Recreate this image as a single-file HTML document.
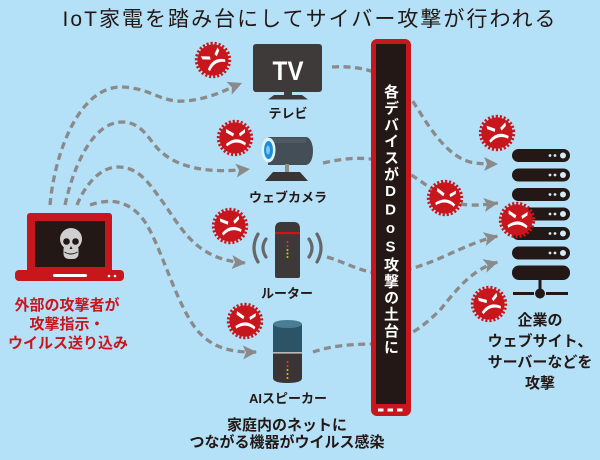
<!DOCTYPE html>
<html><head><meta charset="utf-8">
<style>
html,body{margin:0;padding:0;}
body{width:600px;height:460px;overflow:hidden;background:#b4e1f7;position:relative;font-family:"Liberation Sans","Noto Sans CJK JP",sans-serif;}
svg{position:absolute;left:0;top:0;}
.bt{position:absolute;left:380px;top:84px;width:20px;font-size:15px;font-weight:bold;color:#fff;writing-mode:vertical-rl;text-orientation:upright;letter-spacing:1.5px;line-height:20px;font-family:"Liberation Sans","Noto Sans CJK JP",sans-serif;}
</style></head>
<body>
<svg width="600" height="460" viewBox="0 0 600 460" xmlns="http://www.w3.org/2000/svg">
<defs>
<marker id="ah" markerUnits="userSpaceOnUse" markerWidth="18" markerHeight="18" refX="14" refY="7" orient="auto">
<path d="M0,0 L14,7 L0,14 L3,7 Z" fill="#8a8a8a"/>
</marker>
<g id="badge">
<circle r="16.6" fill="none" stroke="#c8161d" stroke-width="3.2" stroke-dasharray="2.1 1.89"/>
<circle r="15.6" fill="#c8161d"/>
<polygon points="-9,-9 -1,-4.5 -2,-1.5 -9,-5.5" fill="#fff"/>
<polygon points="10,-9 4,-4.5 5,-1.5 10,-5.5" fill="#fff"/>
<path d="M-9,6 Q1,-3 11,5 L10,7.5 Q1,1 -8,8.5 Z" fill="#fff"/>
</g>
</defs>

<!-- title -->
<text x="309" y="26" font-size="21" text-anchor="middle" textLength="493" lengthAdjust="spacing" fill="#231815" font-family="Liberation Sans, Noto Sans CJK JP, sans-serif">IoT家電を踏み台にしてサイバー攻撃が行われる</text>

<!-- dashed connectors -->
<g fill="none" stroke="#8a8a8a" stroke-width="3.3" stroke-dasharray="7 4.5" marker-end="url(#ah)">
<path d="M50,205 C55,150 80,88 120,87 C150,87 160,103 185,101 C210,99 225,90 242,83"/>
<path d="M65,205 C75,160 95,122 122,122 C145,122 150,145 165,155 C185,170 215,173 250,169"/>
<path d="M77,205 C85,185 100,167 118,167 C140,167 150,185 165,205 C185,235 200,260 246,263"/>
<path d="M90,205 C110,198 130,200 145,222 C160,245 172,290 190,320 C205,345 225,353 257,352"/>
<path d="M332,67 C365,65 395,75 412,100 C428,125 445,155 470,162 C480,164 488,164 498,164"/>
<path d="M323,163 C345,158 365,156 385,162 C405,168 425,185 445,198 C455,205 470,207 498,203"/>
<path d="M327,257 C345,262 360,272 380,273 C400,274 425,265 445,256 C465,247 480,240 498,236"/>
<path d="M313,352 C330,346 350,344 375,344 C400,343 420,330 440,310 C455,292 470,270 498,262"/>
</g>

<!-- laptop -->
<rect x="27" y="213" width="85" height="60" rx="3" fill="#c8161d"/>
<rect x="35" y="221" width="70" height="46" fill="#231815"/>
<rect x="15" y="270" width="109" height="11" rx="4" fill="#c8161d"/>
<rect x="53" y="274" width="34" height="3" rx="1.5" fill="#fff"/>
<circle cx="109" cy="276" r="1.3" fill="#fff"/>
<circle cx="115" cy="276" r="1.3" fill="#fff"/>
<!-- skull -->
<ellipse cx="71" cy="239" rx="11" ry="11" fill="#cfcfcf"/>
<rect x="63.5" y="244" width="15" height="15" rx="5" fill="#cfcfcf"/>
<circle cx="66.5" cy="241.5" r="3.3" fill="#231815"/>
<circle cx="75.5" cy="241.5" r="3.3" fill="#231815"/>
<path d="M71,246 L69.5,249 L72.5,249 Z" fill="#231815"/>
<path d="M64.5,252 Q71,256 77.5,252" fill="none" stroke="#231815" stroke-width="1"/>

<!-- TV -->
<rect x="253" y="44" width="69" height="48" rx="3" fill="#3e3a3a"/>
<text x="288" y="80" font-size="27" font-weight="bold" fill="#fff" text-anchor="middle" textLength="31" lengthAdjust="spacingAndGlyphs" font-family="Liberation Sans, sans-serif">TV</text>
<rect x="284" y="92" width="8" height="4" fill="#3e3a3a"/>
<path d="M274,95 L302,95 L308,99.5 L268,99.5 Z" fill="#3e3a3a"/>

<!-- webcam -->
<path d="M268,137 L306,137 A7 14 0 0 1 306,165 L268,165 Z" fill="#444e56"/>
<rect x="270" y="138" width="36" height="5" fill="#56616a" opacity="0.6"/>
<ellipse cx="268.5" cy="150" rx="7" ry="12.5" fill="#dff3fc"/>
<ellipse cx="268.5" cy="150" rx="4.5" ry="9" fill="#1c8fd8"/>
<ellipse cx="268" cy="150" rx="2" ry="4.5" fill="#7cc6ef"/>
<rect x="285" y="164" width="4" height="9" fill="#8e8e8e"/>
<path d="M273,172 L300,172 L308,181 L265,181 Z" fill="#3a3535"/>

<!-- router -->
<path d="M275,229 Q275,222 281,222 L294,222 Q300,222 300,229 L300,276 Q300,278 298,278 L277,278 Q275,278 275,276 Z" fill="#3d3939"/>
<rect x="275" y="232" width="25" height="2.2" fill="#c8161d"/>
<circle cx="287.5" cy="242" r="1" fill="#e23b2e"/>
<circle cx="287.5" cy="246" r="1" fill="#e23b2e"/>
<circle cx="287.5" cy="250" r="1" fill="#c9d400"/>
<circle cx="287.5" cy="253.5" r="1" fill="#c9d400"/>
<circle cx="287.5" cy="257" r="1" fill="#c9d400"/>
<g fill="none" stroke="#666" stroke-width="3.2" stroke-linecap="round">
<path d="M258,234 Q250,248 258,262"/>
<path d="M266,239 Q260,248 266,257"/>
<path d="M317,234 Q325,248 317,262"/>
<path d="M309,239 Q315,248 309,257"/>
</g>

<!-- AI speaker -->
<path d="M273,324 L273,378 Q273,383 287.5,383 Q302,383 302,378 L302,324 Z" fill="#3a3434"/>
<path d="M273,324 L273,352 L302,352 L302,324 Z" fill="#2c5466"/>
<ellipse cx="287.5" cy="324" rx="14.5" ry="4" fill="#4a7d93"/>
<rect x="273" y="352" width="29" height="1.6" fill="#b9b9b9"/>
<circle cx="287.5" cy="362" r="1" fill="#e23b2e"/>
<circle cx="287.5" cy="366" r="1" fill="#e23b2e"/>
<circle cx="287.5" cy="370" r="1" fill="#c9d400"/>
<circle cx="287.5" cy="374" r="1" fill="#c9d400"/>
<circle cx="287.5" cy="378" r="1" fill="#c9d400"/>

<!-- server -->
<g fill="#231815">
<rect x="512" y="149" width="58" height="13" rx="6.5"/>
<rect x="512" y="168.5" width="58" height="13" rx="6.5"/>
<rect x="512" y="188" width="58" height="13" rx="6.5"/>
<rect x="512" y="207.5" width="58" height="13" rx="6.5"/>
<rect x="512" y="227" width="58" height="13" rx="6.5"/>
<rect x="512" y="246.5" width="58" height="13" rx="6.5"/>
<rect x="512" y="265.5" width="58" height="14.5" rx="7"/>
<rect x="538.5" y="279" width="3" height="12"/>
<rect x="513" y="292" width="21" height="3"/>
<rect x="546" y="292" width="22" height="3"/>
<circle cx="540" cy="293.5" r="5"/>
</g>
<g fill="#d4ecf7">
<circle cx="550" cy="155.5" r="1.4"/><circle cx="555" cy="155.5" r="1.4"/><circle cx="563" cy="155.5" r="3"/>
<circle cx="550" cy="175" r="1.4"/><circle cx="555" cy="175" r="1.4"/><circle cx="563" cy="175" r="3"/>
<circle cx="550" cy="194.5" r="1.4"/><circle cx="555" cy="194.5" r="1.4"/><circle cx="563" cy="194.5" r="3"/>
<circle cx="550" cy="214" r="1.4"/><circle cx="555" cy="214" r="1.4"/><circle cx="563" cy="214" r="3"/>
<circle cx="550" cy="233.5" r="1.4"/><circle cx="555" cy="233.5" r="1.4"/><circle cx="563" cy="233.5" r="3"/>
<circle cx="550" cy="253" r="1.4"/><circle cx="555" cy="253" r="1.4"/><circle cx="563" cy="253" r="3"/>
</g>

<!-- center bar -->
<rect x="371" y="39" width="40" height="377" rx="6" fill="#c8161d"/>
<rect x="376" y="44" width="30" height="360" fill="#231815"/>
<rect x="378" y="408.5" width="5.5" height="3" fill="#fff"/>
<rect x="387.5" y="408.5" width="5.5" height="3" fill="#fff"/>
<rect x="397" y="408.5" width="5.5" height="3" fill="#fff"/>

<!-- badges -->
<use href="#badge" transform="translate(213,60) rotate(-28)"/>
<use href="#badge" transform="translate(235,138)"/>
<use href="#badge" transform="translate(230,226) rotate(-8)"/>
<use href="#badge" transform="translate(245,321) rotate(6)"/>
<use href="#badge" transform="translate(497,133) rotate(-10)"/>
<use href="#badge" transform="translate(445,198) rotate(8)"/>
<use href="#badge" transform="translate(517,220) rotate(5)"/>
<use href="#badge" transform="translate(489,304) rotate(-15)"/>

<!-- labels -->
<g font-family="Liberation Sans, Noto Sans CJK JP, sans-serif" font-weight="bold" text-anchor="middle" fill="#231815">
<text x="288" y="118" font-size="13">テレビ</text>
<text x="288" y="202" font-size="13">ウェブカメラ</text>
<text x="287" y="298" font-size="13">ルーター</text>
<text x="288" y="403" font-size="13">AIスピーカー</text>
<text x="287" y="430" font-size="15">家庭内のネットに</text>
<text x="287" y="447" font-size="15">つながる機器がウイルス感染</text>
<text x="540" y="325" font-size="15">企業の</text>
<text x="540" y="346" font-size="15">ウェブサイト、</text>
<text x="540" y="367" font-size="15">サーバーなどを</text>
<text x="540" y="388" font-size="15">攻撃</text>
</g>
<g font-family="Liberation Sans, Noto Sans CJK JP, sans-serif" font-weight="bold" text-anchor="middle" fill="#c8161d" font-size="15">
<text x="67" y="310">外部の攻撃者が</text>
<text x="67" y="329">攻撃指示・</text>
<text x="68" y="348">ウイルス送り込み</text>
</g>
</svg>
<div class="bt">各デバイスがDDoS攻撃の土台に</div>
</body></html>
